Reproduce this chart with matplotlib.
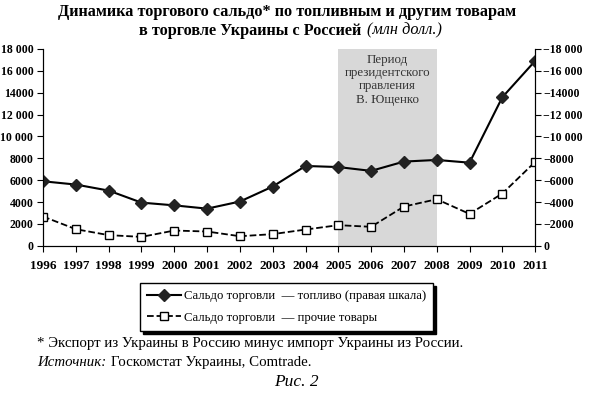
import numpy as np
import matplotlib.pyplot as plt

years = list(range(1996, 2012))
fuel = [5900, 5600, 5050, 3950, 3700, 3400, 4050, 5420, 7300, 7200, 6850, 7700, 7850, 7600, 13580, 16900]
other = [2680, 1520, 980, 820, 1400, 1310, 880, 1070, 1490, 1890, 1740, 3590, 4260, 2920, 4780, 7670]
yticks = [0, 2000, 4000, 6000, 8000, 10000, 12000, 14000, 16000, 18000]
left_labels = ["0", "2000", "4000", "6000", "8000", "10 000", "12 000", "14000", "16 000", "18 000"]
right_labels = ["0", "\u22122000", "\u22124000", "\u22126000", "\u22128000", "\u221210 000",
                "\u221212 000", "\u221214000", "\u221216 000", "\u221218 000"]
period = (2005, 2008)

plt.rcParams['font.family'] = ['Liberation Serif', 'DejaVu Serif']

fig = plt.figure(figsize=(5.9, 3.94), dpi=100)
ax = fig.add_axes([0.073, 0.376, 0.834, 0.5])

# период Ющенко
ax.axvspan(period[0], period[1], ymin=0, ymax=1, color='#d8d8d8', zorder=0, lw=0)
ax.text(sum(period) / 2, 17500, "Период\nпрезидентского\nправления\nВ. Ющенко",
        ha='center', va='top', fontsize=9.3, color='#333333', linespacing=1.12)

ax.plot(years, fuel, '-', color='black', lw=1.5, marker='D', ms=6,
        mfc='#222222', mec='#222222', label='Сальдо торговли  \u2014 топливо (правая шкала)', zorder=3)
ax.plot(years, other, '--', color='black', lw=1.3, marker='s', ms=6.3,
        mfc='white', mec='black', mew=1, label='Сальдо торговли  \u2014 прочие товары', zorder=3)

ax.set_xlim(1996, 2011)
ax.set_ylim(0, 18000)
ax.set_xticks(years)
ax.set_xticklabels([str(y) for y in years], fontsize=9.5, fontweight='bold')
ax.set_yticks(yticks)
ax.set_yticklabels(left_labels, fontsize=8.5, fontweight='bold')
ax.spines['top'].set_visible(False)
ax.tick_params(axis='x', length=4, pad=6)
ax.tick_params(axis='y', length=4, pad=3)

ax2 = ax.twinx()
ax2.set_ylim(0, 18000)
ax2.set_yticks(yticks)
ax2.set_yticklabels(right_labels, fontsize=8.5, fontweight='bold')
ax2.spines['top'].set_visible(False)
ax2.tick_params(axis='y', length=4, pad=2)

leg = ax.legend(loc='center', bbox_to_anchor=(0.486, 0.221), bbox_transform=fig.transFigure,
                fontsize=9.2, frameon=True, fancybox=False, shadow={'color': 'black', 'alpha': 1},
                handlelength=2.6, borderpad=0.55, labelspacing=0.75, handletextpad=0.25)
leg.get_frame().set_edgecolor('black')
leg.get_frame().set_linewidth(1)

# заголовок
fig.text(0.487, 0.97, "Динамика торгового сальдо* по топливным и другим товарам",
         ha='center', va='center', fontsize=11.7, fontweight='bold')
fig.text(0.613, 0.922, "в торговле Украины с Россией", ha='right', va='center',
         fontsize=11.7, fontweight='bold')
fig.text(0.622, 0.922, "(млн долл.)", ha='left', va='center', fontsize=11.7, style='italic')

# подписи снизу
fig.text(0.063, 0.129, "* Экспорт из Украины в Россию минус импорт Украины из России.",
         ha='left', va='center', fontsize=10.7)
src = fig.text(0.063, 0.081, "Источник:", ha='left', va='center', fontsize=10.7, style='italic')
r = fig.canvas.get_renderer()
bb = src.get_window_extent(renderer=r).transformed(fig.transFigure.inverted())
fig.text(bb.x1 + 0.008, 0.081, "Госкомстат Украины, Comtrade.", ha='left', va='center', fontsize=10.7)
fig.text(0.503, 0.03, "Рис. 2", ha='center', va='center', fontsize=12.5, style='italic')

fig.savefig("out.png", dpi=100)
